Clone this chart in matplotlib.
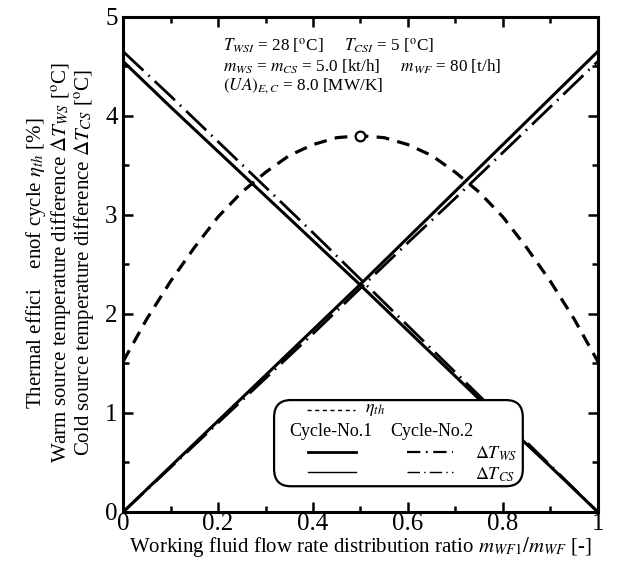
import numpy as np
import matplotlib
matplotlib.use("Agg")
import matplotlib.pyplot as plt
from matplotlib.patches import FancyBboxPatch
from matplotlib.lines import Line2D

plt.rcParams['font.family'] = ['Liberation Serif', 'DejaVu Serif']
plt.rcParams['mathtext.fontset'] = 'stix'

# values
ratio = [0.0, 0.1, 0.2, 0.3, 0.4, 0.5, 0.6, 0.7, 0.8, 0.9, 1.0]
dT_ws_c1 = [4.55, 4.09, 3.64, 3.19, 2.74, 2.29, 1.83, 1.37, 0.91, 0.46, 0.0]
dT_cs_c1 = [0.0, 0.46, 0.92, 1.38, 1.84, 2.30, 2.77, 3.24, 3.71, 4.18, 4.65]
dT_ws_c2 = [4.65, 4.20, 3.74, 3.28, 2.82, 2.35, 1.88, 1.41, 0.94, 0.47, 0.0]
dT_cs_c2 = [0.0, 0.45, 0.90, 1.35, 1.80, 2.26, 2.72, 3.17, 3.63, 4.09, 4.55]

ratio_eta = [0.0, 0.05, 0.1, 0.15, 0.2, 0.25, 0.3, 0.35, 0.4, 0.45, 0.5,
             0.55, 0.6, 0.65, 0.7, 0.75, 0.8, 0.85, 0.9, 0.95, 1.0]
eta_th = [1.52, 1.95, 2.33, 2.67, 2.98, 3.23, 3.43, 3.60, 3.71, 3.78, 3.80,
          3.78, 3.71, 3.60, 3.43, 3.23, 2.98, 2.67, 2.33, 1.95, 1.52]
eta_max = (0.5, 3.80)

dashdot = (0, (10, 2.5, 0.6, 2.5))
dashed = (0, (4.0, 2.6))

fig = plt.figure(figsize=(6.38, 5.62), dpi=100)
ax = fig.add_axes([0.193, 0.089, 0.744, 0.881])

ax.plot(ratio_eta, eta_th, color='k', lw=2.3, linestyle=dashed)
ax.plot(*eta_max, 'o', ms=7, mfc='white', mec='k', mew=1.6, zorder=4)
ax.plot(ratio, dT_ws_c1, color='k', lw=2.2)
ax.plot(ratio, dT_cs_c1, color='k', lw=2.2)
ax.plot(ratio, dT_ws_c2, color='k', lw=2.0, linestyle=dashdot)
ax.plot(ratio, dT_cs_c2, color='k', lw=2.0, linestyle=dashdot)

ax.set_xlim(0, 1)
ax.set_ylim(0, 5)
ax.set_xticks(np.arange(0, 1.01, 0.2))
ax.set_xticklabels(['0', '0.2', '0.4', '0.6', '0.8', '1'])
ax.set_xticks(np.arange(0.1, 1.0, 0.2), minor=True)
ax.set_yticks(range(6))
ax.set_yticks(np.arange(0.5, 5, 1), minor=True)
ax.tick_params(which='both', direction='in', top=True, right=True, width=1.8,
               labelsize=18)
ax.tick_params(axis='x', pad=1)
ax.tick_params(axis='y', pad=4)
ax.tick_params(which='major', length=7)
ax.tick_params(which='minor', length=4)
for s in ax.spines.values():
    s.set_linewidth(2.2)

ax.set_xlabel(r'Working fluid flow rate distribution ratio $m_{WF1}/m_{WF}$ [-]',
              fontsize=15, labelpad=0)

ylines = [r'Thermal effici    enof cycle $\eta_{th}$ [%]',
          r'Warm source temperature difference $\Delta T_{WS}$ [$^{\mathrm{o}}$C]',
          r'Cold source temperature difference $\Delta T_{CS}$ [$^{\mathrm{o}}$C]']
for xp, s in zip([0.057, 0.096, 0.132], ylines):
    fig.text(xp, 0.532, s, rotation=90, ha='center', va='center', fontsize=15)

cond = [r'$T_{WSI}$ = 28 [$^{\mathrm{o}}$C]     $T_{CSI}$ = 5 [$^{\mathrm{o}}$C]',
        r'$m_{WS}$ = $m_{CS}$ = 5.0 [kt/h]     $m_{WF}$ = 80 [t/h]',
        r'$(UA)_{E,C}$ = 8.0 [MW/K]']
for yp, s in zip([0.940, 0.900, 0.861], cond):
    ax.text(0.210, yp, s, transform=ax.transAxes, fontsize=12.3, va='center')

# hand-built legend
tr = ax.transAxes
ax.add_patch(FancyBboxPatch((0.318, 0.052), 0.524, 0.174, transform=tr,
                            boxstyle='round,pad=0,rounding_size=0.035',
                            fc='white', ec='k', lw=1.6, zorder=5))
ax.add_line(Line2D([0.387, 0.488], [0.206, 0.206], transform=tr, color='k',
                   lw=1.0, linestyle=(0, (3, 2.5)), zorder=6))
ax.text(0.51, 0.206, r'$\eta_{th}$', transform=tr, fontsize=13, va='center', zorder=6)
ax.text(0.438, 0.162, 'Cycle-No.1', transform=tr, fontsize=13, ha='center',
        va='center', zorder=6)
ax.text(0.651, 0.162, 'Cycle-No.2', transform=tr, fontsize=13, ha='center',
        va='center', zorder=6)
ax.add_line(Line2D([0.389, 0.490], [0.121, 0.121], transform=tr, color='k', lw=2.0, zorder=6))
ax.add_line(Line2D([0.389, 0.490], [0.081, 0.081], transform=tr, color='k', lw=1.0, zorder=6))
ax.add_line(Line2D([0.598, 0.695], [0.121, 0.121], transform=tr, color='k', lw=1.6,
                   linestyle=(0, (6, 2.5, 0.8, 2.5)), zorder=6))
ax.add_line(Line2D([0.598, 0.695], [0.081, 0.081], transform=tr, color='k', lw=1.0,
                   linestyle=(0, (9, 3, 1, 3)), zorder=6))
ax.text(0.742, 0.118, r'$\Delta T_{WS}$', transform=tr, fontsize=13, va='center', zorder=6)
ax.text(0.742, 0.076, r'$\Delta T_{CS}$', transform=tr, fontsize=13, va='center', zorder=6)

fig.savefig('out.png', dpi=100)
